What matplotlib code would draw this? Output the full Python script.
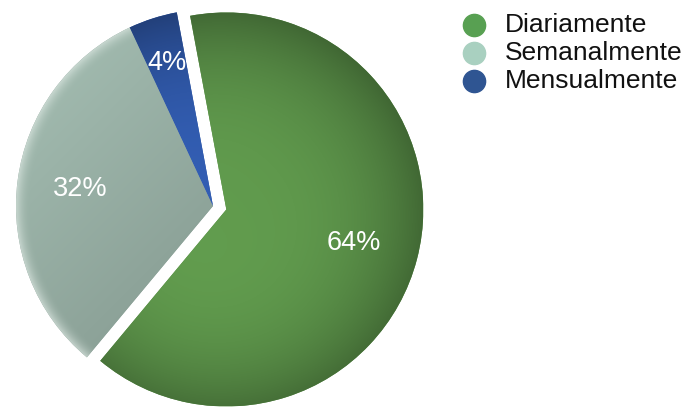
import numpy as np
import matplotlib
matplotlib.use("Agg")
import matplotlib.pyplot as plt
from matplotlib.lines import Line2D

plt.rcParams['font.family'] = ['Liberation Sans', 'DejaVu Sans']

categories = ["Diariamente", "Semanalmente", "Mensualmente"]
shares = [64, 32, 4]
slice_colors = ["#5a9048", "#8ea49a", "#2f57a6"]
legend_colors = ["#58a052", "#a9d0c0", "#2f5592"]

W, H = 686, 408
fig = plt.figure(figsize=(W / 100, H / 100), dpi=100)
ax = fig.add_axes([0, 0, 1, 1])

# pie origin and radius in pixels
px_r = 197.0
cx_px, cy_px = 213.0, 202.0

wedges, _ = ax.pie(shares, colors=slice_colors, startangle=100.6,
                   counterclock=False, explode=[0.07, 0, 0], radius=1,
                   wedgeprops=dict(linewidth=0))

# soft shading inside each slice
n = 400
g = np.linspace(-1, 1, n)
gx, gy = np.meshgrid(g, g[::-1])
rr = np.hypot(gx, gy)
for w, col, kind in zip(wedges, slice_colors, ["dark", "light", "dark"]):
    base = np.array(matplotlib.colors.to_rgb(col))
    cx, cy = w.center
    if kind == "dark":
        # darker towards the upper right rim
        f = 1.08 - 0.32 * np.clip(rr, 0, 1) ** 3
        f = f - 0.06 * (gx + gy) * 0.5
        rgb = np.clip(base[None, None, :] * f[..., None], 0, 1)
    else:
        f = 1.0 + 0.18 * (-gx + gy) * 0.5
        rgb = base[None, None, :] * f[..., None]
        rim = np.clip((rr - 0.93) / 0.07, 0, 1) ** 2
        rgb = rgb * (1 - rim[..., None] * 0.6) + rim[..., None] * 0.6 * np.array([0.88, 0.92, 0.9])
        rgb = np.clip(rgb, 0, 1)
    im = ax.imshow(rgb, extent=[cx - 1, cx + 1, cy - 1, cy + 1],
                   aspect='auto', zorder=2, interpolation='bilinear')
    im.set_clip_path(w)

# percentage labels
label_r = [0.67, 0.68, 0.76]
for w, v, lr in zip(wedges, shares, label_r):
    mid = np.deg2rad((w.theta1 + w.theta2) / 2)
    cx, cy = w.center
    ax.text(cx + lr * np.cos(mid), cy + lr * np.sin(mid), f"{v}%",
            color="white", fontsize=19.5, ha="center", va="center", zorder=5)

ax.set_xlim(-cx_px / px_r, (W - cx_px) / px_r)
ax.set_ylim(-cy_px / px_r, (H - cy_px) / px_r)
ax.axis("off")

# legend
for i, (name, col) in enumerate(zip(categories, legend_colors)):
    y = 1 - (25 + 28 * i) / H
    fig.add_artist(Line2D([474 / W], [y], marker="o", markersize=16,
                          color=col, linestyle="none",
                          transform=fig.transFigure))
    fig.text(505 / W, y, name, fontsize=19, va="center", ha="left",
             color="#111111")

fig.savefig("out.png", dpi=100)
